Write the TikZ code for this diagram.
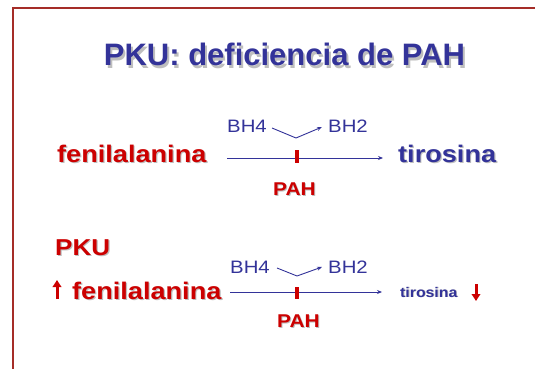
\documentclass[tikz,border=0pt]{standalone}
\usepackage{fontspec}
\setmainfont{Liberation Sans}
\newfontfamily\anchafont[FakeStretch=1.13]{Liberation Sans}
\usetikzlibrary{arrows.meta}
\definecolor{pkublue}{RGB}{51,51,153}
\definecolor{pkured}{RGB}{204,0,0}
\definecolor{pkuframe}{RGB}{165,45,40}
\definecolor{pkushadow}{RGB}{190,190,190}
% texto con sombra gris
\newcommand{\sombra}[2][1.2pt]{\rlap{\kern#1\raisebox{-#1}{\color{pkushadow}#2}}#2}

\begin{document}
\begin{tikzpicture}[x=1pt,y=-1pt,
    texto/.style={anchor=base west, inner sep=0pt},
    sustrato/.style={texto, text=pkured, font=\anchafont\bfseries\fontsize{24}{28}\selectfont},
    producto/.style={texto, text=pkublue, font=\anchafont\bfseries\fontsize{24}{28}\selectfont},
    cofactor/.style={texto, text=pkublue, font=\anchafont\fontsize{18}{21}\selectfont},
    enzima/.style={texto, text=pkured, font=\anchafont\bfseries\fontsize{18.5}{22}\selectfont},
    flecha/.style={pkublue, line width=0.9pt, -{Stealth[length=5pt,width=4pt]}},
    bloqueo/.style={pkured, line width=4pt},
    nivel/.style={pkured, line width=3pt, -{Triangle[length=7pt,width=8.5pt]}}]
        \useasboundingbox (0,0) rectangle (535,369);

        % Marco
        \draw[pkuframe, line width=2pt] (535,8) -- (13,8) -- (13,369);

        % Titulo
        \node[anchor=base, inner sep=0pt, text=pkublue,
              font=\bfseries\fontsize{31}{36}\selectfont] (titulo) at (284.5,66)
            {\sombra[2pt]{PKU: deficiencia de PAH}};

        % Fila 1
        \node[sustrato] (fen1) at (57,162) {\sombra{fenilalanina}};
        \node[producto] (tir1) at (398,162) {\sombra{tirosina}};
        \node[cofactor] (bh4a) at (227,132) {BH4};
        \node[cofactor] (bh2a) at (328,132) {BH2};
        \node[enzima] (pah1) at (273,195) {\sombra[1pt]{PAH}};
        \coordinate (ini1) at (227,158);
        \coordinate (fin1) at (383,158);
        \coordinate (co1a) at (272,128);
        \coordinate (co1b) at (296,138);
        \coordinate (co1c) at (322,127);
        \draw[flecha] (ini1) -- (fin1);
        \draw[bloqueo] (296.5,150) -- (296.5,163);
        \draw[flecha] (co1a) -- (co1b) -- (co1c);

        % Fila 2
        \node[texto, text=pkured, font=\anchafont\bfseries\fontsize{23}{27}\selectfont]
            (pku) at (55,255) {\sombra{PKU}};
        \node[sustrato] (fen2) at (72,299) {\sombra{fenilalanina}};
        \node[producto, font=\anchafont\bfseries\fontsize{14}{17}\selectfont]
            (tir2) at (400,297) {\sombra[0.8pt]{tirosina}};
        \node[cofactor] (bh4b) at (230,273) {BH4};
        \node[cofactor] (bh2b) at (328,273) {BH2};
        \node[enzima] (pah2) at (277,327) {\sombra[1pt]{PAH}};
        \coordinate (ini2) at (230,292);
        \coordinate (fin2) at (382,292);
        \coordinate (co2a) at (277,268);
        \coordinate (co2b) at (297,276);
        \coordinate (co2c) at (322,267);
        \draw[flecha] (ini2) -- (fin2);
        \draw[bloqueo] (297,287) -- (297,299);
        \draw[flecha] (co2a) -- (co2b) -- (co2c);

        % Subida y bajada
        \draw[nivel] (57,299) -- (57,280);
        \draw[nivel] (476,284) -- (476,301);

    \end{tikzpicture}
\end{document}
